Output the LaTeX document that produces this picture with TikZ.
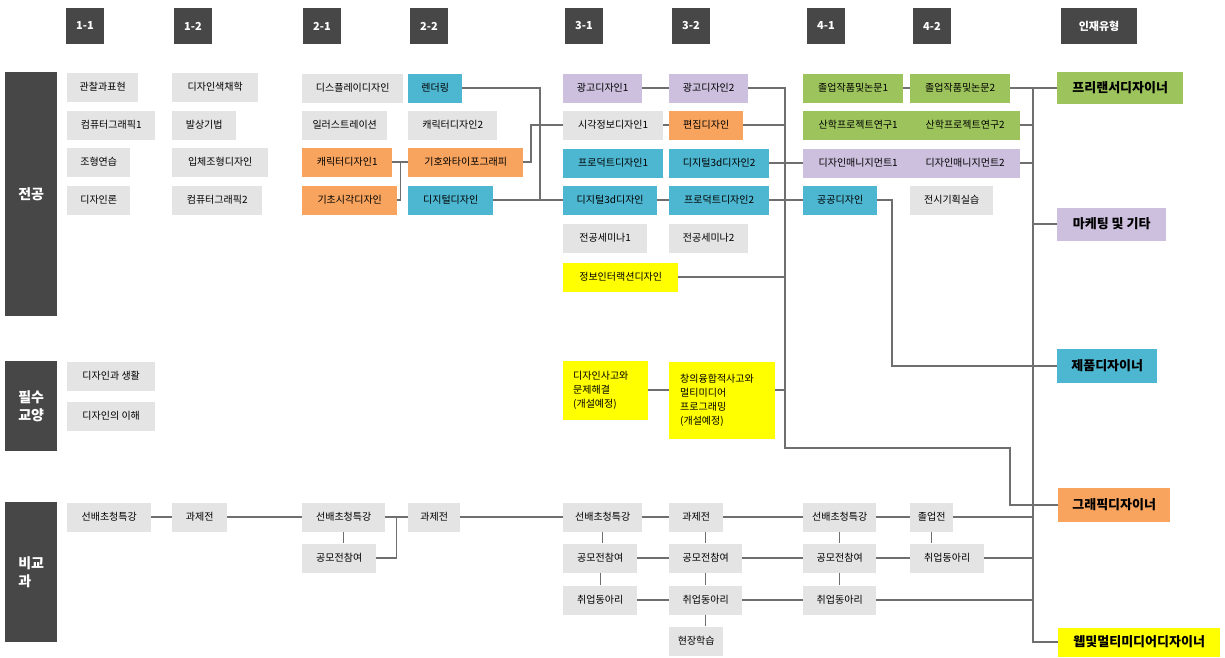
\documentclass[tikz,border=0pt]{standalone}
\usepackage{fontspec}
\setmainfont{Noto Sans CJK KR}
\usepackage{xcolor}
\usepackage{tikz}
\usetikzlibrary{positioning,calc}

\definecolor{hdrgray}{HTML}{474747}
\definecolor{crsgray}{HTML}{E4E4E4}
\definecolor{crspurple}{HTML}{CCC0DE}
\definecolor{crscyan}{HTML}{4DB6D0}
\definecolor{crsorange}{HTML}{F8A45E}
\definecolor{crsgreen}{HTML}{9CC35C}
\definecolor{crsyellow}{HTML}{FFFF00}
\definecolor{linegray}{HTML}{6F6F6F}

\begin{document}
\begin{tikzpicture}[x=1pt,y=-1pt,
    course/.style={anchor=west, minimum height=29pt, inner sep=0pt, font=\fontsize{10}{14}\selectfont},
    hdrbox/.style={fill=hdrgray, text=white, minimum width=38pt, minimum height=36pt, font=\fontsize{11}{13}\selectfont\bfseries},
    rowbar/.style={fill=hdrgray, text=white, anchor=north west, minimum width=52pt, align=left, font=\fontsize{14}{18}\selectfont\bfseries},
    career/.style={anchor=west, inner sep=0pt, font=\fontsize{13}{15}\selectfont\bfseries},
    link/.style={draw=linegray, line width=1.3pt}]
    \useasboundingbox (0,0) rectangle (1225,657);

    % Semester headers
    \foreach \n/\x/\t in {h11/85/1-1, h12/193/1-2, h21/322/2-1, h22/429/2-2, h31/584/3-1, h32/691/3-2, h41/826/4-1, h42/932/4-2}
        \node[hdrbox] (\n) at (\x,26) {\t};
    \node[hdrbox, minimum width=76pt] (hjob) at (1099,26) {인재유형};

    % Row bars
    \node[rowbar, minimum height=244pt] (major) at (5,72) {전공};
    \node[rowbar, minimum height=90pt] (liberal) at (5,361) {필수\\교양};
    \node[rowbar, minimum height=140pt] (extra) at (5,502) {비교\\과};

    % Major and liberal courses
    \foreach \n/\x/\y/\w/\c/\t in {
        a1/67/87/71/crsgray/관찰과표현, a2/67/125/88/crsgray/컴퓨터그래픽1,
        a3/67/162/63/crsgray/조형연습, a4/67/200/63/crsgray/디자인론,
        b1/172/87/86/crsgray/디자인색채학, b2/172/125/64/crsgray/발상기법,
        b3/172/162/96/crsgray/입체조형디자인, b4/172/200/90/crsgray/컴퓨터그래픽2,
        c1/302/88/101/crsgray/디스플레이디자인, c2/302/125/85/crsgray/일러스트레이션,
        c3/302/162/90/crsorange/캐릭터디자인1, c4/302/200/95/crsorange/기초시각디자인,
        d1/408/88/54/crscyan/렌더링, d2/408/125/89/crsgray/캐릭터디자인2,
        d3/408/162/115/crsorange/기호와타이포그래피, d4/408/200/85/crscyan/디지털디자인,
        e1/563/88/79/crspurple/광고디자인1, e2/563/125/100/crsgray/시각정보디자인1,
        e3/563/163/100/crscyan/프로덕트디자인1, e4/563/200/94/crscyan/디지털3d디자인,
        e5/563/238/84/crsgray/전공세미나1, e6/563/277/115/crsyellow/정보인터랙션디자인,
        f1/669/88/79/crspurple/광고디자인2, f2/669/125/74/crsorange/편집디자인,
        f3/669/163/100/crscyan/디지털3d디자인2, f4/669/200/100/crscyan/프로덕트디자인2,
        f5/669/238/79/crsgray/전공세미나2,
        g1/803/88/100/crsgreen/졸업작품및논문1, g4/803/200/74/crscyan/공공디자인,
        h1/910/88/100/crsgreen/졸업작품및논문2, h4/910/200/83/crsgray/전시기획실습,
        r1/67/376/88/crsgray/디자인과 생활, r2/67/416/88/crsgray/디자인의 이해}
        \node[course, fill=\c, minimum width=\w pt] (\n) at (\x,\y) {\t};
    \node[course, fill=crsgreen, minimum width=217pt] (g2) at (803,125)
        {\makebox[107pt]{산학프로젝트연구1}\makebox[107pt]{산학프로젝트연구2}};
    \node[course, fill=crspurple, minimum width=217pt] (g3) at (803,163)
        {\makebox[107pt]{디자인매니지먼트1}\makebox[107pt]{디자인매니지먼트2}};
    \node[course, fill=crsyellow, minimum width=85pt, minimum height=59pt, text width=65pt, align=left] (s1) at (563,390)
        {디자인사고와\\문제해결\\(개설예정)};
    \node[course, fill=crsyellow, minimum width=106pt, minimum height=77pt, text width=84pt, align=left] (s2) at (669,400)
        {창의융합적사고와\\멀티미디어\\프로그래밍\\(개설예정)};

    % Extracurricular
    \foreach \n/\x/\y/\w/\t in {
        k1/67/517/84/선배초청특강, k2/172/517/55/과제전, k3/302/517/83/선배초청특강,
        k4/302/558/74/공모전참여, k5/408/517/52/과제전,
        m1/563/517/79/선배초청특강, m2/563/558/74/공모전참여, m3/563/600/74/취업동아리,
        n1/669/517/54/과제전, n2/669/558/73/공모전참여, n3/669/600/73/취업동아리, n4/669/641/54/현장학습,
        p1/803/517/73/선배초청특강, p2/803/558/73/공모전참여, p3/803/600/73/취업동아리,
        q1/910/517/43/졸업전, q2/910/558/74/취업동아리}
        \node[course, fill=crsgray, minimum width=\w pt] (\n) at (\x,\y) {\t};

    % Career types
    \foreach \n/\x/\y/\w/\h/\c/\t in {
        t1/1057/88/126/32/crsgreen/프리랜서디자이너, t2/1057/224/109/33/crspurple/마케팅 및 기타,
        t3/1057/366/100/34/crscyan/제품디자이너, t4/1058/505/112/34/crsorange/그래픽디자이너,
        t5/1058/642/162/29/crsyellow/웹및멀티미디어디자이너}
        \node[career, fill=\c, minimum width=\w pt, minimum height=\h pt] (\n) at (\x,\y) {\t};

    % Junctions
    \coordinate (j1) at (540,200);
    \coordinate (j2) at (531,162);
    \coordinate (v1) at (785,448);
    \coordinate (v2) at (1010,448);
    \coordinate (v3) at (892,366);
    \coordinate (v4) at (1033,88);
    \coordinate (v5) at (1033,642);

    % Major links
    \draw[link] (c3) -- (d3);
    \draw[link] (c4.east) -| ($(c3.east)!.5!(d3.west)$);
    \draw[link] (d1.east) -| (j1);
    \draw[link] (d3.east) -- (j2) |- (e2.west);
    \foreach \a/\b in {d4/e4, e1/f1, e2/f2, e4/f4, f3/g3, f4/g4, g1/h1, h1/t1}
        \draw[link] (\a) -- (\b);
    \draw[link] (s1.east) -- (s1.east -| s2.west);

    % To graphic designer
    \draw[link] (f1.east) -| (v1) -- (v2) |- (t4.west);
    \foreach \n in {f2,e6}
        \draw[link] (\n.east) -- (\n.east -| v1);
    \draw[link] (s1.east -| s2.east) -- (s1.east -| v1);

    % To product designer
    \draw[link] (g4.east) -| (v3) -- (t3.west);

    % Right bus
    \draw[link] (v4) -- (v5) -- (t5.west);
    \foreach \n in {g2,g3,q1,q2,p3}
        \draw[link] (\n.east) -- (\n.east -| v4);
    \draw[link] (t2.west) -- (t2.west -| v4);

    % Extracurricular links
    \foreach \a/\b in {k1/k2, k2/k3, k3/k5, k5/m1, m1/n1, n1/p1, p1/q1, m2/n2, n2/p2, p2/q2, m3/n3, n3/p3}
        \draw[link] (\a) -- (\b);
    \foreach \a/\b in {k3/k4, m1/m2, m2/m3, n2/n3, n3/n4, p1/p2, p2/p3, q1/q2}
        \draw[link] (\a.south) -- (\a.south |- \b.north);
    \draw[link] (n2.north) -- (n2.north |- n1.south);
    \draw[link] (k4.east) -| ($(k3.east)!.5!(k5.west)$);
\end{tikzpicture}
\end{document}
